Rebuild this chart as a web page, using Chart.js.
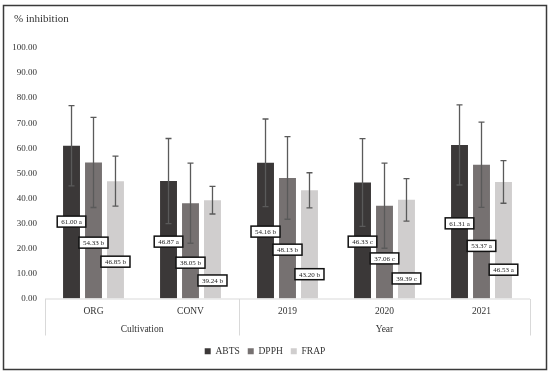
<!DOCTYPE html>
<html>
<head>
<meta charset="utf-8">
<script src="https://cdn.jsdelivr.net/npm/chart.js@4.4.1/dist/chart.umd.min.js"></script>
<style>
  html, body { margin: 0; padding: 0; background: #fff; }
  #wrap { position: relative; width: 550px; height: 373px; }
</style>
</head>
<body>
<div id="wrap"><canvas id="chart" width="550" height="373"></canvas></div>
<script>
// Datos del grafico
const categories = ['ORG', 'CONV', '2019', '2020', '2021'];
const groupNames = ['Cultivation', 'Year'];
const groupSpans = [[0, 1], [2, 4]];

const abts = [61.00, 46.87, 54.16, 46.33, 61.31];
const dpph = [54.33, 38.05, 48.13, 37.06, 53.37];
const frap = [46.85, 39.24, 43.20, 39.39, 46.53];

const abtsSd = [16.0, 17.0, 17.5, 17.5, 16.0];
const dpphSd = [18.0, 16.0, 16.5, 17.0, 17.0];
const frapSd = [10.0, 5.5, 7.0, 8.5, 8.5];

const abtsLetters = ['a', 'a', 'b', 'c', 'a'];
const dpphLetters = ['b', 'b', 'b', 'c', 'a'];
const frapLetters = ['b', 'b', 'b', 'c', 'a'];

const yTicks = { min: 0, max: 100, step: 10 };

// Posicion vertical (en unidades del eje) de las etiquetas
const labelY = [
    [30.7, 22.7, 26.7, 22.7, 30.0],
    [22.3, 14.3, 19.5, 16.0, 21.0],
    [14.7, 7.2, 9.7, 8.0, 11.5]
];

const serif = '"Liberation Serif", "DejaVu Serif", serif';
const sdList = [abtsSd, dpphSd, frapSd];
const letterList = [abtsLetters, dpphLetters, frapLetters];

// Plugin: marco, barras de error, etiquetas y cajas del eje x
const extras = {
    id: 'extras',
    beforeDraw(chart) {
        const ctx = chart.ctx;
        ctx.save();
        ctx.strokeStyle = '#3a3a3a';
        ctx.lineWidth = 1.5;
        ctx.strokeRect(3.5, 5.5, 543, 364);
        ctx.fillStyle = '#333';
        ctx.font = '11px ' + serif;
        ctx.textBaseline = 'middle';
        ctx.textAlign = 'left';
        ctx.fillText('% inhibition', 14, 19);
        ctx.restore();
    },
    afterDatasetsDraw(chart) {
        const ctx = chart.ctx;
        const y = chart.scales.y;
        ctx.save();
        // Barras de error
        chart.data.datasets.forEach((ds, i) => {
            const meta = chart.getDatasetMeta(i);
            meta.data.forEach((bar, j) => {
                const v = ds.data[j];
                const sd = sdList[i][j];
                const top = y.getPixelForValue(v + sd);
                const bot = y.getPixelForValue(v - sd);
                ctx.strokeStyle = '#5a5a5a';
                ctx.lineWidth = 1.3;
                ctx.beginPath();
                ctx.moveTo(bar.x, top);
                ctx.lineTo(bar.x, bot);
                ctx.moveTo(bar.x - 3, top);
                ctx.lineTo(bar.x + 3, top);
                ctx.moveTo(bar.x - 3, bot);
                ctx.lineTo(bar.x + 3, bot);
                ctx.stroke();
            });
        });
        // Etiquetas con valor y letra
        ctx.font = '7px ' + serif;
        ctx.textAlign = 'center';
        ctx.textBaseline = 'middle';
        chart.data.datasets.forEach((ds, i) => {
            const meta = chart.getDatasetMeta(i);
            meta.data.forEach((bar, j) => {
                const txt = ds.data[j].toFixed(2) + ' ' + letterList[i][j];
                const cy = y.getPixelForValue(labelY[i][j]);
                const w = ctx.measureText(txt).width + 8;
                const h = 11;
                ctx.fillStyle = '#fff';
                ctx.fillRect(bar.x - w / 2, cy - h / 2, w, h);
                ctx.strokeStyle = '#111';
                ctx.lineWidth = 1.5;
                ctx.strokeRect(bar.x - w / 2, cy - h / 2, w, h);
                ctx.fillStyle = '#222';
                ctx.fillText(txt, bar.x, cy + 0.5);
            });
        });
        ctx.restore();
    },
    afterDraw(chart) {
        const ctx = chart.ctx;
        const x = chart.scales.x;
        const area = chart.chartArea;
        const half = (x.getPixelForValue(1) - x.getPixelForValue(0)) / 2;
        const base = area.bottom + 0.5;
        const low = area.bottom + 37;
        ctx.save();
        ctx.strokeStyle = '#d9d9d9';
        ctx.lineWidth = 1;
        ctx.beginPath();
        ctx.moveTo(area.left, base);
        ctx.lineTo(area.right, base);
        const edges = [area.left];
        groupSpans.forEach(s => edges.push(x.getPixelForValue(s[1]) + half));
        edges.forEach(ex => {
            const px = Math.round(ex) + 0.5;
            ctx.moveTo(px, base);
            ctx.lineTo(px, low);
        });
        ctx.stroke();
        ctx.fillStyle = '#333';
        ctx.font = '9.5px ' + serif;
        ctx.textAlign = 'center';
        ctx.textBaseline = 'middle';
        groupSpans.forEach((s, k) => {
            const a = x.getPixelForValue(s[0]) - half;
            const b = x.getPixelForValue(s[1]) + half;
            ctx.fillText(groupNames[k], (a + b) / 2, area.bottom + 31);
        });
        ctx.restore();
    }
};

new Chart(document.getElementById('chart'), {
    type: 'bar',
    data: {
        labels: categories,
        datasets: [
            { label: 'ABTS', data: abts, backgroundColor: '#3b3838' },
            { label: 'DPPH', data: dpph, backgroundColor: '#767171' },
            { label: 'FRAP', data: frap, backgroundColor: '#d0cece' }
        ]
    },
    options: {
        responsive: false,
        animation: false,
        layout: { padding: { top: 48, right: 20, bottom: 7, left: 0 } },
        datasets: {
            bar: { categoryPercentage: 0.68, barPercentage: 0.77, borderWidth: 0 }
        },
        scales: {
            x: {
                grid: { display: false, drawTicks: false },
                border: { display: false },
                ticks: { color: '#333', font: { family: serif, size: 9.5 }, padding: 7 },
                afterFit(scale) { scale.height = 40; }
            },
            y: {
                min: yTicks.min,
                max: yTicks.max,
                grid: { display: false, drawTicks: false },
                border: { display: false },
                ticks: {
                    stepSize: yTicks.step,
                    color: '#333',
                    padding: 8,
                    font: { family: serif, size: 9 },
                    callback: v => Number(v).toFixed(2)
                },
                afterFit(scale) { scale.width = 45; }
            }
        },
        plugins: {
            legend: {
                position: 'bottom',
                labels: {
                    boxWidth: 6,
                    boxHeight: 6,
                    padding: 8,
                    color: '#333',
                    font: { family: serif, size: 9.5 }
                }
            },
            tooltip: { enabled: false }
        }
    },
    plugins: [extras]
});
</script>
</body>
</html>
